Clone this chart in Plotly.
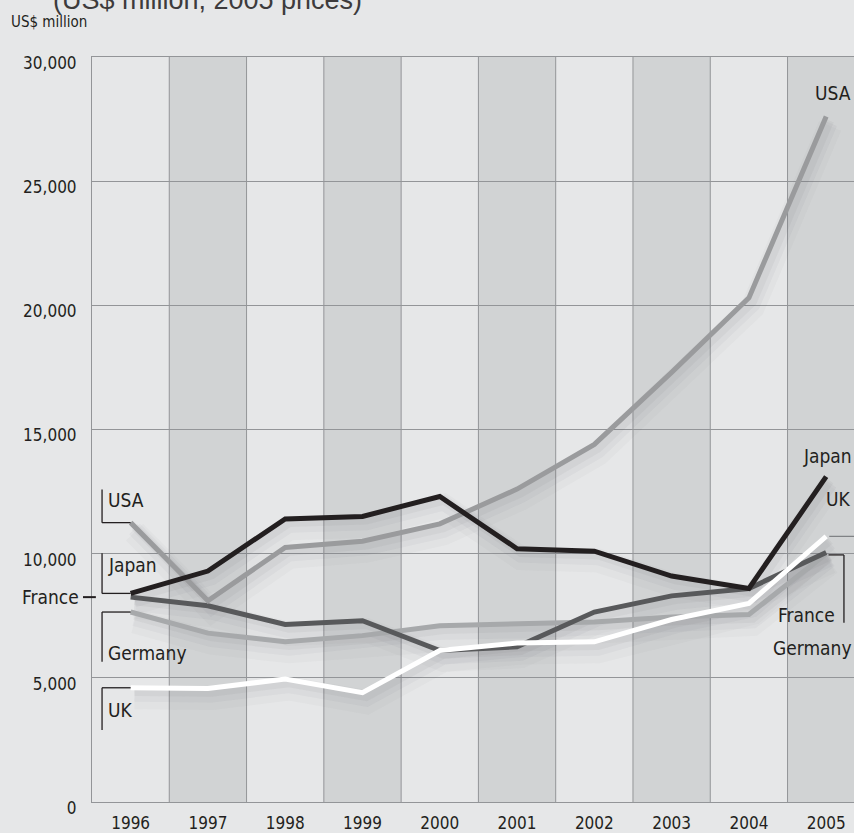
import plotly.graph_objects as go

years = ["1996", "1997", "1998", "1999", "2000", "2001", "2002", "2003", "2004", "2005"]
usa = [11250, 8100, 10250, 10500, 11200, 12600, 14400, 17300, 20300, 27600]
japan = [8400, 9300, 11400, 11500, 12300, 10200, 10100, 9100, 8600, 13100]
france = [8250, 7900, 7150, 7300, 6100, 6250, 7650, 8300, 8600, 10050]
germany = [7650, 6800, 6450, 6700, 7100, 7150, 7250, 7450, 7550, 10000]
uk = [4600, 4570, 4950, 4400, 6100, 6400, 6450, 7350, 8000, 10700]
y_ticks = [0, 5000, 10000, 15000, 20000, 25000, 30000]
y_tick_text = ["0", "5,000", "10,000", "15,000", "20,000", "25,000", "30,000"]

NARROW = "Liberation Sans Narrow, DejaVu Sans Condensed, Roboto Condensed, Liberation Sans, sans-serif"
TXT = "#231f20"
GRID = "#939598"
BG = "#e6e7e8"
SHADE = "#d1d3d4"

W, H = 854, 833
L, R, T, B = 92, 0, 57, 31
xs = list(range(len(years)))

fig = go.Figure()

series = [
    ("Germany", germany, "#a7a9ab"),
    ("France", france, "#58595b"),
    ("USA", usa, "#9a9b9d"),
    ("Japan", japan, "#231f20"),
    ("UK", uk, "#ffffff"),
]
# soft shadows
for name, vals, col in series:
    for w, a, dy in [(24, 0.03, 380), (15, 0.045, 260), (8, 0.05, 170)]:
        fig.add_trace(go.Scatter(x=[x + 0.05 for x in xs], y=[v - dy for v in vals], mode="lines",
                                 line=dict(color=f"rgba(80,80,85,{a})", width=w),
                                 hoverinfo="skip", showlegend=False))
for name, vals, col in series:
    fig.add_trace(go.Scatter(x=xs, y=vals, mode="lines", name=name,
                             line=dict(color=col, width=5), showlegend=False))

shapes = []
# shaded columns
for i in xs:
    if i % 2 == 1:
        shapes.append(dict(type="rect", xref="x", yref="y", x0=i - 0.5, x1=i + 0.5, y0=0, y1=30000,
                           fillcolor=SHADE, line=dict(width=0), layer="below"))
# column boundaries
for i in xs[:-1]:
    shapes.append(dict(type="line", xref="x", yref="y", x0=i + 0.5, x1=i + 0.5, y0=0, y1=30000,
                       line=dict(color=GRID, width=1), layer="below"))

bx = -0.37  # bracket x (left)
def seg(x0, y0, x1, y1, color=TXT, width=1.3, xref="x"):
    shapes.append(dict(type="line", xref=xref, yref="y", x0=x0, y0=y0, x1=x1, y1=y1,
                       line=dict(color=color, width=width), layer="above"))

# left brackets
seg(bx, usa[0], 0, usa[0]); seg(bx, usa[0], bx, usa[0] + 1330)
seg(bx, japan[0], 0, japan[0]); seg(bx, japan[0], bx, japan[0] + 1620)
seg(bx, germany[0], 0, germany[0]); seg(bx, germany[0], bx, germany[0] - 2000)
seg(bx, uk[0], 0, uk[0]); seg(bx, uk[0], bx, uk[0] - 1700)
seg((83 - L) / (W - L), france[0], 0.05 / 9.86, france[0], width=2, xref="paper")
# right brackets
seg(9.04, uk[-1], 9.5, uk[-1], color="#808285", width=1.3)
seg(9.03, germany[-1] - 50, 9.23, germany[-1] - 50)
seg(9.23, germany[-1] - 50, 9.23, germany[-1] - 2780)

LS = 19
ann = []
def lab(text, x, y, xanchor="left", size=LS, xshift=0):
    ann.append(dict(text=text, x=x, y=y, xref="x", yref="y", showarrow=False, xanchor=xanchor,
                    yanchor="middle", xshift=xshift, font=dict(family=NARROW, size=size, color=TXT)))

lab("USA", bx, 12180, xshift=4)
lab("Japan", bx, 9560, xshift=4)
lab("Germany", bx, 6020, xshift=4)
lab("UK", bx, 3710, xshift=4)
ann.append(dict(text="France", x=(81 - L) / (W - L), y=france[0], xref="paper", yref="y",
                showarrow=False, xanchor="right", yanchor="middle",
                font=dict(family=NARROW, size=LS, color=TXT)))
lab("USA", 9.36, 28550, xanchor="right", xshift=-1)
lab("Japan", 9.36, 13950, xanchor="right", xshift=0)
lab("UK", 9.36, 12200, xanchor="right", xshift=-1)
lab("France", 9.14, 7530, xanchor="right")
lab("Germany", 9.36, 6200, xanchor="right", xshift=0)

def px_ann(text, x, y, size, family, color=TXT):
    ann.append(dict(text=text, x=(x - L) / (W - L), y=(H - y - B) / (H - T - B), xref="paper",
                    yref="paper", showarrow=False, xanchor="left", yanchor="middle",
                    font=dict(family=family, size=size, color=color)))

px_ann("US$ million", 9, 22, 15, NARROW)
px_ann("(US$ million, 2005 prices)", 51, 0, 27, "Liberation Sans, Arial, sans-serif", "#3d3b3c")

fig.update_layout(
    width=W, height=H, margin=dict(l=L, r=R, t=T, b=B),
    paper_bgcolor=BG, plot_bgcolor=BG,
    shapes=shapes, annotations=ann,
    xaxis=dict(range=[-0.5, 9.36], tickvals=xs, ticktext=years, showgrid=False, zeroline=False,
               showline=True, linecolor=GRID, linewidth=1, mirror=True, ticks="",
               ticklabelstandoff=6, tickfont=dict(family=NARROW, size=17, color=TXT)),
    yaxis=dict(range=[0, 30000], tickvals=y_ticks, ticktext=y_tick_text, showgrid=True,
               gridcolor=GRID, gridwidth=1, zeroline=False, showline=True, linecolor=GRID,
               linewidth=1, ticks="", ticklabelstandoff=11, ticklabelshift=6,
               tickfont=dict(family=NARROW, size=17, color=TXT)),
)

fig.write_html("out.html")
